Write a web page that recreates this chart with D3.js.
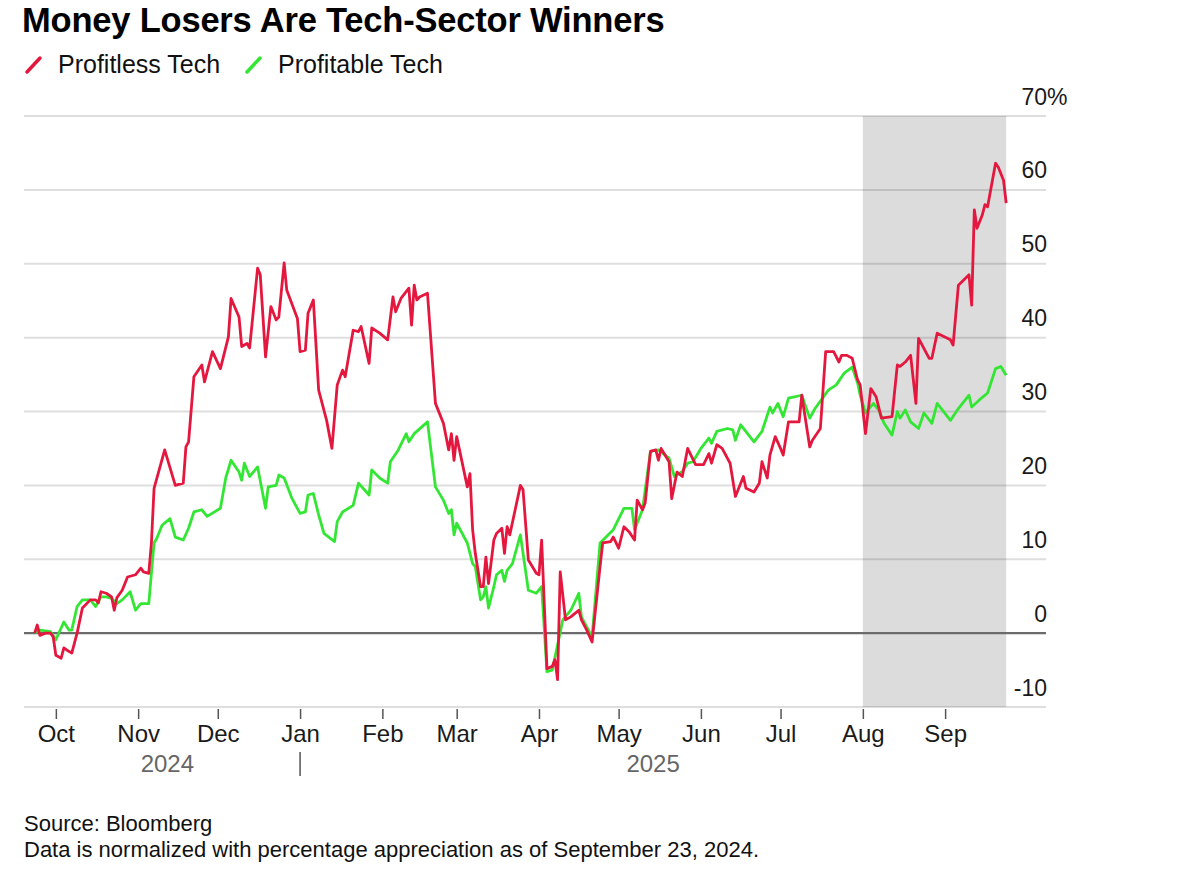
<!DOCTYPE html>
<html>
<head>
<meta charset="utf-8">
<script src="https://cdn.jsdelivr.net/npm/d3@7"></script>
<style>
  body { margin: 0; background: #fff; }
</style>
</head>
<body>
<script>
var width = 1179;
var height = 873;
var fontFamily = "'Liberation Sans', Arial, sans-serif";

//*********** Data ************************************************
var chartTitle = "Money Losers Are Tech-Sector Winners";
var seriesNames = ["Profitless Tech", "Profitable Tech"];
var seriesColors = ["#e4173f", "#34e634"];

var profitlessDates = [
  "2024-09-23","2024-09-24","2024-09-25","2024-09-27","2024-09-29","2024-09-30","2024-10-01","2024-10-03","2024-10-04","2024-10-06",
  "2024-10-07","2024-10-09","2024-10-11","2024-10-14","2024-10-16","2024-10-17","2024-10-18","2024-10-20","2024-10-22","2024-10-23",
  "2024-10-24","2024-10-26","2024-10-28","2024-10-31","2024-11-02","2024-11-03","2024-11-05","2024-11-06","2024-11-07","2024-11-11",
  "2024-11-15","2024-11-18","2024-11-19","2024-11-20","2024-11-22","2024-11-25","2024-11-26","2024-11-29","2024-12-02","2024-12-05",
  "2024-12-06","2024-12-09","2024-12-10","2024-12-12","2024-12-13","2024-12-16","2024-12-17","2024-12-19","2024-12-21","2024-12-23",
  "2024-12-24","2024-12-26","2024-12-27","2024-12-31","2025-01-01","2025-01-03","2025-01-04","2025-01-06","2025-01-08","2025-01-11",
  "2025-01-13","2025-01-15","2025-01-17","2025-01-18","2025-01-21","2025-01-23","2025-01-24","2025-01-27","2025-01-28","2025-01-31",
  "2025-02-03","2025-02-05","2025-02-06","2025-02-08","2025-02-11","2025-02-12","2025-02-13","2025-02-14","2025-02-15","2025-02-18",
  "2025-02-21","2025-02-24","2025-02-26","2025-02-27","2025-02-28","2025-03-01","2025-03-05","2025-03-06","2025-03-07","2025-03-08",
  "2025-03-10","2025-03-11","2025-03-12","2025-03-13","2025-03-15","2025-03-16","2025-03-18","2025-03-19","2025-03-20","2025-03-21",
  "2025-03-25","2025-03-26","2025-03-28","2025-03-31","2025-04-01","2025-04-02","2025-04-04","2025-04-06","2025-04-07","2025-04-08",
  "2025-04-09","2025-04-11","2025-04-13","2025-04-14","2025-04-16","2025-04-17","2025-04-19","2025-04-21","2025-04-24","2025-04-25",
  "2025-04-28","2025-04-29","2025-05-01","2025-05-03","2025-05-05","2025-05-07","2025-05-08","2025-05-10","2025-05-11","2025-05-13",
  "2025-05-15","2025-05-16","2025-05-17","2025-05-20","2025-05-21","2025-05-23","2025-05-25","2025-05-27","2025-05-30","2025-06-02",
  "2025-06-04","2025-06-05","2025-06-07","2025-06-09","2025-06-12","2025-06-14","2025-06-16","2025-06-17","2025-06-18","2025-06-21",
  "2025-06-23","2025-06-24","2025-06-26","2025-06-27","2025-06-29","2025-07-01","2025-07-02","2025-07-04","2025-07-08","2025-07-09",
  "2025-07-12","2025-07-13","2025-07-16","2025-07-18","2025-07-21","2025-07-23","2025-07-24","2025-07-26","2025-07-28","2025-07-30",
  "2025-07-31","2025-08-02","2025-08-04","2025-08-06","2025-08-08","2025-08-12","2025-08-14","2025-08-15","2025-08-17","2025-08-19",
  "2025-08-21","2025-08-22","2025-08-26","2025-08-27","2025-08-29","2025-09-03","2025-09-04","2025-09-06","2025-09-08","2025-09-10",
  "2025-09-11","2025-09-12","2025-09-13","2025-09-15","2025-09-16","2025-09-17","2025-09-20","2025-09-21","2025-09-23","2025-09-24"
];
var profitlessValues = [
  0, 1.1, -0.3, 0.0, 0.0, -0.5, -3.0, -3.4, -2.0, -2.5,
  -2.7, 0.0, 3.4, 4.5, 4.5, 4.1, 5.6, 5.4, 4.9, 3.1,
  4.8, 5.8, 7.6, 7.9, 8.8, 8.3, 8.1, 12.2, 19.6, 24.8,
  20.0, 20.3, 25.2, 25.9, 34.7, 36.3, 34.0, 38.1, 35.8, 40.1,
  45.3, 42.8, 38.8, 39.2, 38.6, 49.4, 48.5, 37.4, 44.2, 42.4,
  42.8, 50.1, 46.4, 42.6, 38.1, 38.3, 43.3, 45.1, 32.9, 28.8,
  25.0, 33.6, 35.6, 34.7, 41.0, 40.8, 41.5, 36.5, 41.3, 40.6,
  39.7, 45.5, 43.5, 45.3, 46.7, 41.7, 47.1, 45.1, 45.5, 46.0,
  31.1, 28.4, 24.8, 27.0, 23.4, 26.6, 19.8, 21.6, 14.0, 10.8,
  6.3, 6.3, 10.3, 6.7, 12.6, 13.5, 14.2, 10.8, 14.4, 13.3,
  20.0, 19.4, 9.9, 8.1, 7.9, 12.6, -4.8, -4.5, -3.6, -6.3,
  8.3, 1.8, 2.2, 2.5, 3.1, 1.8, 0.4, -1.2, 9.0, 12.2,
  12.4, 13.0, 11.5, 14.4, 13.7, 12.6, 18.0, 16.7, 17.6, 24.6,
  24.8, 23.4, 25.0, 23.2, 18.2, 21.8, 21.2, 25.0, 22.8, 22.8,
  24.3, 23.0, 25.5, 25.0, 23.0, 18.5, 20.3, 21.2, 19.6, 19.1,
  20.3, 23.2, 21.0, 24.1, 26.6, 25.0, 24.1, 28.6, 28.6, 32.2,
  25.2, 26.1, 27.7, 38.1, 38.1, 36.7, 37.6, 37.6, 37.2, 34.3,
  33.6, 27.0, 33.1, 32.0, 29.1, 29.3, 36.3, 36.1, 36.7, 37.6,
  31.1, 39.9, 37.2, 37.2, 40.6, 39.7, 39.0, 47.1, 47.8, 48.5,
  44.4, 57.3, 54.8, 56.6, 58.0, 57.7, 63.6, 63.1, 61.3, 58.2
];

var profitableDates = [
  "2024-09-23","2024-09-25","2024-09-29","2024-10-01","2024-10-04","2024-10-06","2024-10-07","2024-10-09","2024-10-11","2024-10-14",
  "2024-10-16","2024-10-18","2024-10-20","2024-10-22","2024-10-24","2024-10-26","2024-10-29","2024-10-31","2024-11-02","2024-11-05",
  "2024-11-07","2024-11-08","2024-11-10","2024-11-13","2024-11-15","2024-11-18","2024-11-20","2024-11-22","2024-11-25","2024-11-27",
  "2024-12-02","2024-12-04","2024-12-06","2024-12-09","2024-12-10","2024-12-11","2024-12-13","2024-12-16","2024-12-19","2024-12-20",
  "2024-12-23","2024-12-24","2024-12-26","2024-12-29","2025-01-01","2025-01-03","2025-01-04","2025-01-06","2025-01-08","2025-01-10",
  "2025-01-14","2025-01-15","2025-01-17","2025-01-21","2025-01-23","2025-01-27","2025-01-28","2025-01-31","2025-02-03","2025-02-04",
  "2025-02-07","2025-02-10","2025-02-11","2025-02-13","2025-02-18","2025-02-21","2025-02-24","2025-02-26","2025-02-27","2025-02-28",
  "2025-03-01","2025-03-05","2025-03-07","2025-03-08","2025-03-10","2025-03-11","2025-03-12","2025-03-13","2025-03-15","2025-03-16",
  "2025-03-18","2025-03-19","2025-03-20","2025-03-22","2025-03-25","2025-03-28","2025-03-31","2025-04-02","2025-04-04","2025-04-06",
  "2025-04-10","2025-04-13","2025-04-16","2025-04-17","2025-04-21","2025-04-24","2025-04-29","2025-05-03","2025-05-06","2025-05-07",
  "2025-05-10","2025-05-13","2025-05-16","2025-05-20","2025-05-22","2025-05-25","2025-05-27","2025-05-29","2025-06-01","2025-06-04",
  "2025-06-05","2025-06-07","2025-06-11","2025-06-13","2025-06-14","2025-06-16","2025-06-21","2025-06-24","2025-06-26","2025-06-27",
  "2025-06-28","2025-06-30","2025-07-02","2025-07-04","2025-07-09","2025-07-12","2025-07-14","2025-07-19","2025-07-22","2025-07-25",
  "2025-07-28","2025-07-30","2025-07-31","2025-08-02","2025-08-05","2025-08-07","2025-08-09","2025-08-12","2025-08-14","2025-08-15",
  "2025-08-17","2025-08-19","2025-08-22","2025-08-24","2025-08-27","2025-08-29","2025-09-03","2025-09-06","2025-09-10","2025-09-11",
  "2025-09-14","2025-09-17","2025-09-20","2025-09-22","2025-09-24"
];
var profitableValues = [
  0.0, 0.4, 0.2, -0.9, 1.5, 0.4, 0.4, 3.6, 4.5, 4.5,
  3.6, 4.9, 4.9, 4.7, 4.0, 4.5, 5.6, 3.1, 4.0, 4.0,
  12.2, 12.8, 14.6, 15.5, 13.0, 12.6, 14.2, 16.4, 16.7, 15.8,
  16.9, 21.0, 23.4, 21.8, 20.7, 23.0, 21.2, 22.5, 16.9, 19.8,
  20.0, 21.4, 21.0, 18.2, 16.2, 16.4, 18.7, 18.9, 16.0, 13.5,
  12.4, 15.1, 16.4, 17.3, 20.3, 18.7, 22.1, 21.0, 20.3, 23.2,
  24.8, 27.0, 25.9, 27.0, 28.6, 19.8, 18.0, 16.2, 16.7, 13.3,
  14.9, 12.2, 9.4, 9.0, 4.5, 4.9, 6.3, 3.4, 6.3, 7.9,
  8.5, 7.0, 8.5, 9.4, 13.3, 5.8, 5.4, 6.3, -5.2, -5.0,
  1.8, 3.1, 5.4, 2.2, -0.5, 12.2, 14.0, 16.9, 16.9, 14.0,
  16.7, 24.6, 24.8, 23.7, 21.2, 21.9, 23.0, 23.2, 25.0, 26.4,
  25.7, 27.3, 27.7, 27.5, 26.1, 28.2, 25.9, 27.3, 29.5, 30.6,
  29.8, 31.1, 29.3, 31.8, 32.2, 29.1, 30.4, 32.9, 33.6, 35.2,
  36.0, 33.9, 32.2, 29.8, 31.1, 30.2, 28.4, 26.8, 30.0, 29.1,
  30.2, 28.6, 27.7, 29.8, 28.4, 31.1, 28.8, 30.4, 32.2, 30.6,
  31.6, 32.5, 35.8, 36.1, 34.9
];

var yTicks = [-10, 0, 10, 20, 30, 40, 50, 60, 70];
var monthTicks = ["2024-10-01","2024-11-01","2024-12-01","2025-01-01","2025-02-01","2025-03-01",
                  "2025-04-01","2025-05-01","2025-06-01","2025-07-01","2025-08-01","2025-09-01"];
var yearLabels = ["2024", "2025"];
var yearBreak = "2025-01-01";
var shadeStart = "2025-08-01";
var sourceLines = ["Source: Bloomberg", "Data is normalized with percentage appreciation as of September 23, 2024."];

//*********** Scales *******************
var parseDate = d3.timeParse("%Y-%m-%d");
var plotLeft = 24, plotRight = 1046, plotTop = 116, plotBottom = 707;

var series = [
  { name: seriesNames[1], color: seriesColors[1],
    values: profitableDates.map(function(d, i){ return { date: parseDate(d), value: profitableValues[i] }; }) },
  { name: seriesNames[0], color: seriesColors[0],
    values: profitlessDates.map(function(d, i){ return { date: parseDate(d), value: profitlessValues[i] }; }) }
];
var firstDate = parseDate(profitlessDates[0]);
var lastDate = parseDate(profitlessDates[profitlessDates.length - 1]);

var x = d3.scaleTime()
    .domain([d3.timeDay.offset(firstDate, -4), d3.timeDay.offset(lastDate, 15)])
    .range([plotLeft, plotRight]);
var y = d3.scaleLinear()
    .domain([d3.min(yTicks), d3.max(yTicks)])
    .range([plotBottom, plotTop]);

var svg = d3.select("body").append("svg")
    .attr("width", width)
    .attr("height", height)
    .style("font-family", fontFamily);

//*********** Title and legend *******************
svg.append("text")
    .attr("x", 22)
    .attr("y", 32)
    .attr("font-size", 34.5)
    .attr("font-weight", "bold")
    .attr("letter-spacing", -0.2)
    .attr("fill", "#000")
    .text(chartTitle);

var legendX = [26, 246];
seriesNames.forEach(function(name, i){
  var g = svg.append("g").attr("transform", "translate(" + legendX[i] + ",0)");
  g.append("line")
      .attr("x1", 1).attr("y1", 72)
      .attr("x2", 14).attr("y2", 58)
      .attr("stroke", seriesColors[i])
      .attr("stroke-width", 3.5)
      .attr("stroke-linecap", "round");
  g.append("text")
      .attr("x", 32)
      .attr("y", 73)
      .attr("font-size", 25)
      .attr("fill", "#111")
      .text(name);
});

//*********** Shaded period *******************
svg.append("rect")
    .attr("x", x(parseDate(shadeStart)))
    .attr("y", y(d3.max(yTicks)))
    .attr("width", x(lastDate) - x(parseDate(shadeStart)))
    .attr("height", y(d3.min(yTicks)) - y(d3.max(yTicks)))
    .attr("fill", "#dcdcdc");

//*********** Grid *******************
svg.selectAll(".grid")
    .data(yTicks.filter(function(d){ return d !== 0; }))
    .enter().append("line")
    .attr("class", "grid")
    .attr("x1", plotLeft).attr("x2", plotRight)
    .attr("y1", function(d){ return y(d); })
    .attr("y2", function(d){ return y(d); })
    .attr("stroke", "rgba(0,0,0,0.13)")
    .attr("stroke-width", 2);

svg.append("line")
    .attr("x1", plotLeft).attr("x2", plotRight)
    .attr("y1", y(0)).attr("y2", y(0))
    .attr("stroke", "#6b6b6b")
    .attr("stroke-width", 2.2);

//*********** Right-hand value labels *******************
var gy = svg.append("g")
    .attr("transform", "translate(" + (plotRight + 1) + ",0)")
    .call(d3.axisLeft(y).tickValues(yTicks).tickSize(0).tickPadding(0).tickFormat(function(d){ return d; }));
gy.select(".domain").remove();
gy.attr("font-family", null).attr("font-size", null);
gy.selectAll(".tick text")
    .attr("dy", 0)
    .attr("y", -12)
    .attr("font-size", 23)
    .attr("fill", "#1a1a1a");
gy.selectAll(".tick").filter(function(d){ return d === d3.max(yTicks); })
    .append("text")
    .attr("x", 0)
    .attr("y", -12)
    .attr("text-anchor", "start")
    .attr("font-size", 23)
    .attr("fill", "#1a1a1a")
    .text("%");

//*********** Month axis *******************
var gx = svg.append("g")
    .attr("transform", "translate(0," + (plotBottom + 2) + ")")
    .call(d3.axisBottom(x)
        .tickValues(monthTicks.map(parseDate))
        .tickFormat(d3.timeFormat("%b"))
        .tickSize(10)
        .tickPadding(6));
gx.select(".domain").remove();
gx.attr("font-family", null).attr("font-size", null);
gx.selectAll(".tick line").attr("stroke", "#555").attr("stroke-width", 1.5);
gx.selectAll(".tick text")
    .attr("font-size", 24)
    .attr("fill", "#1a1a1a");

// year labels, centred on the part of the data that falls in each year
var breakX = x(parseDate(yearBreak));
var yearCenters = [(x(firstDate) + breakX) / 2, (breakX + x(lastDate)) / 2];
yearLabels.forEach(function(label, i){
  svg.append("text")
      .attr("x", yearCenters[i])
      .attr("y", 772)
      .attr("text-anchor", "middle")
      .attr("font-size", 24)
      .attr("fill", "#666")
      .text(label);
});
svg.append("line")
    .attr("x1", breakX).attr("x2", breakX)
    .attr("y1", 752).attr("y2", 776)
    .attr("stroke", "#555")
    .attr("stroke-width", 1.5);

//*********** Lines *******************
var line = d3.line()
    .x(function(d){ return x(d.date); })
    .y(function(d){ return y(d.value); });

svg.selectAll(".series")
    .data(series)
    .enter().append("path")
    .attr("class", "series")
    .attr("d", function(d){ return line(d.values); })
    .attr("fill", "none")
    .attr("stroke", function(d){ return d.color; })
    .attr("stroke-width", 2.8)
    .attr("stroke-linejoin", "round");

//*********** Source *******************
sourceLines.forEach(function(t, i){
  svg.append("text")
      .attr("x", 24)
      .attr("y", 831 + i * 26)
      .attr("font-size", 22)
      .attr("fill", "#111")
      .text(t);
});
</script>
</body>
</html>
